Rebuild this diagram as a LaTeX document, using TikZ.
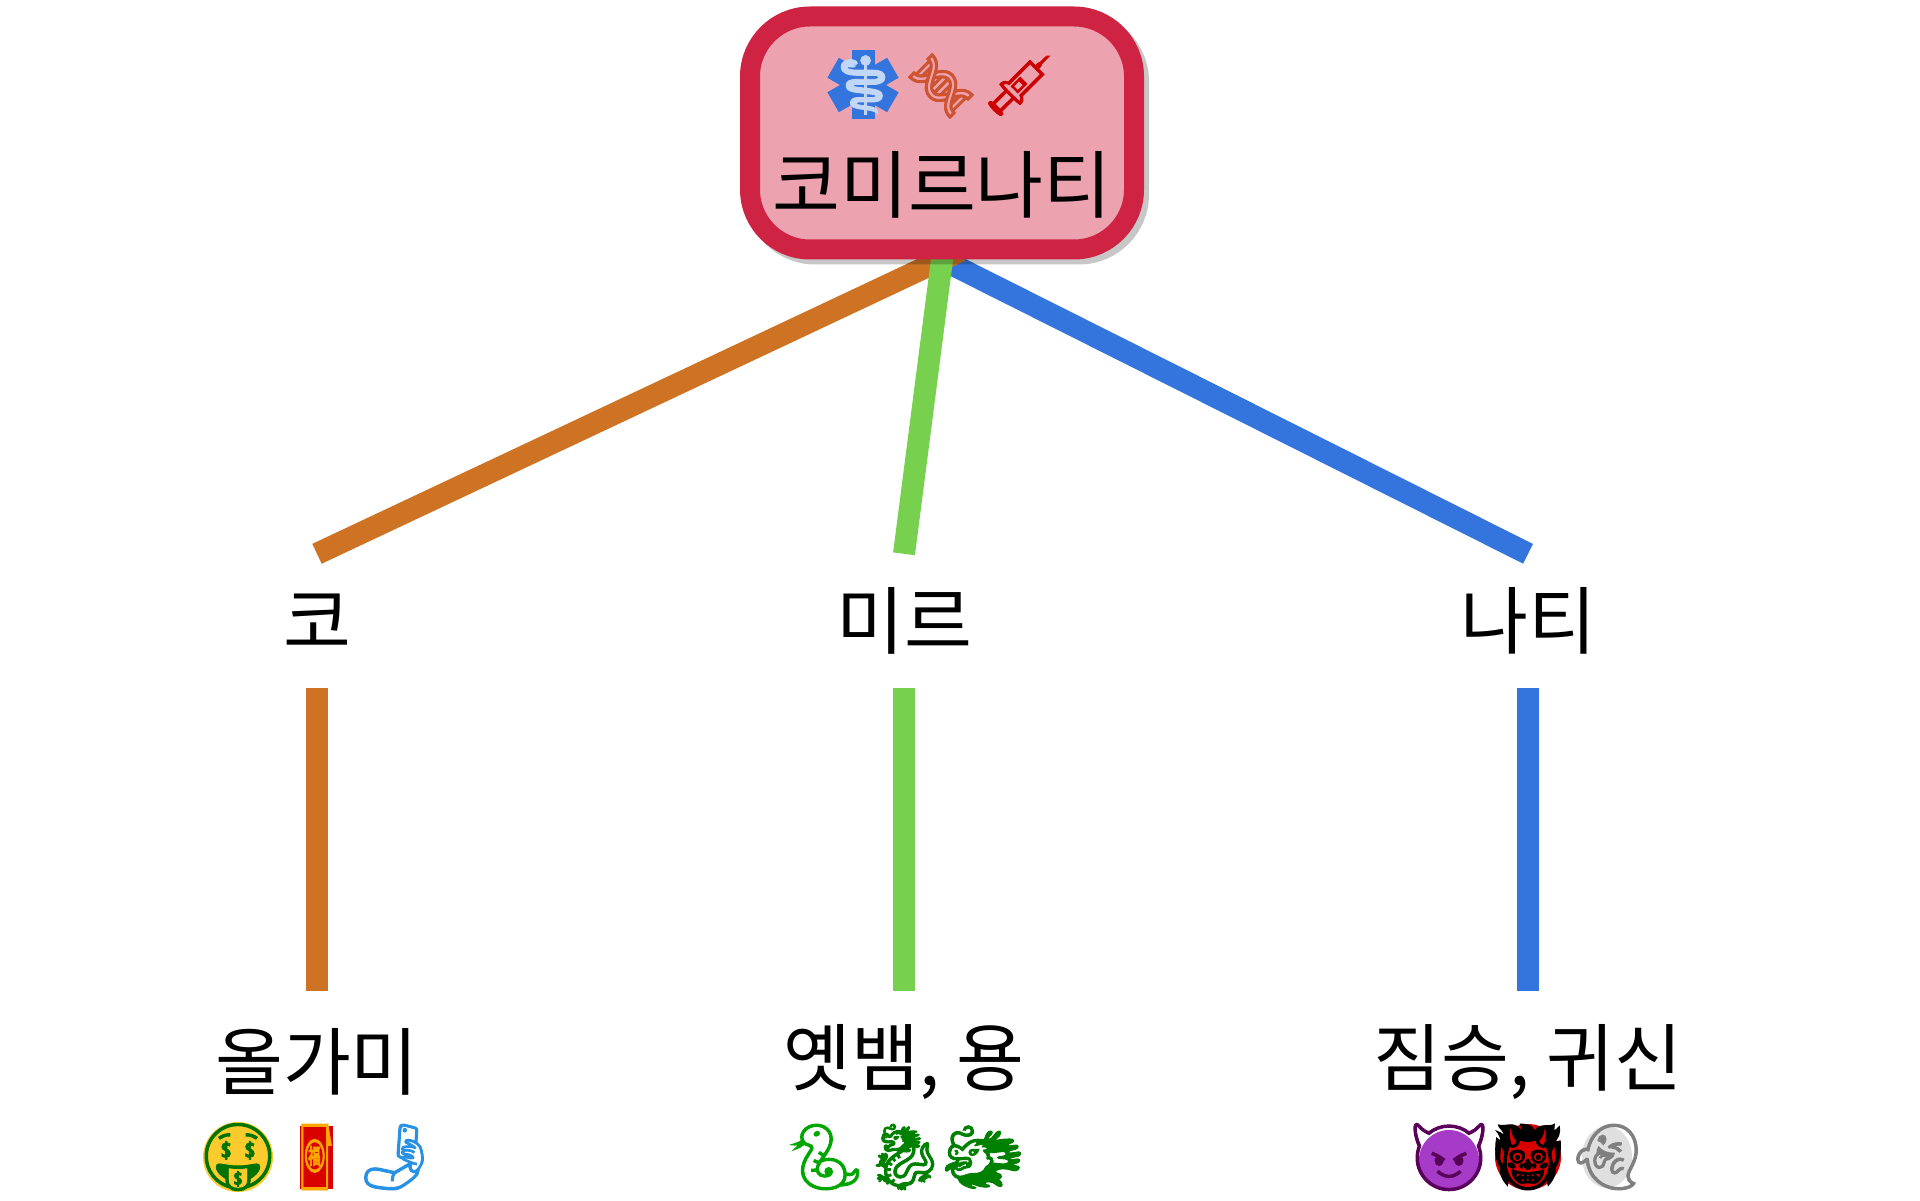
\documentclass[tikz,border=0pt]{standalone}
\usepackage{fontspec}
\setmainfont{Noto Sans CJK KR}
\newfontfamily\emojifont[FakeBold=1.4]{Noto Emoji}
\usetikzlibrary{backgrounds, shadows, shapes.geometric}
\definecolor{myred}{HTML}{CE2342}
\definecolor{mypink}{HTML}{EDA3AF}
\definecolor{myorange}{HTML}{CE7324}
\definecolor{mygreen}{HTML}{78D14E}
\definecolor{myblue}{HTML}{3375DC}
\definecolor{myyellow}{HTML}{FBCB2E}
\definecolor{mypurple}{HTML}{A63BC8}
\tikzset{
	rootnode/.style={
			shape=rectangle,
			draw=myred,
			fill=mypink,
			line width=2mm,
			rounded corners=6mm,
			minimum width=38.4mm,
			minimum height=23.3mm,
			inner sep=0pt,
			drop shadow={shadow xshift=0.5mm,shadow yshift=-0.5mm,draw=black,line width=2mm,fill=black,opacity=0.22}
		},
	wordnode/.style={
			shape=rectangle,
			minimum height=13.3mm,
			inner sep=0pt,
			font=\fontsize{21}{25}\selectfont
		},
	leafnode/.style={
			wordnode,
			minimum height=14.1mm
		},
	emojinode/.style={
			inner sep=0pt,
			font=\fontsize{18.5}{22}\emojifont
		},
	backnode/.style={
			circle,
			inner sep=0pt,
			minimum size=7mm
		},
	barnode/.style={
			shape=rectangle,
			fill=myblue,
			inner sep=0pt,
			minimum width=2.3mm,
			minimum height=6.9mm
		},
	branch/.style={
			line width=2.2mm
		}
}

\begin{document}
\begin{tikzpicture}
  \useasboundingbox (0,0) rectangle (19.2,12);

  \node[rootnode] (root) at (9.42,10.67) {};
  \node[wordnode] (rootword) at (9.42,10.155) {코미르나티};

  \foreach \a in {0,60,120}
    \node[barnode, rotate=\a] (bar\a) at (8.63,11.15) {};
  \node[emojinode, text=white!70!myblue, font=\fontsize{16.5}{20}\emojifont] (star) at (8.63,11.15) {⚕};
  \node[emojinode, text=myorange!60!myred, rotate=45, font=\fontsize{16.5}{20}\emojifont] (dna) at (9.41,11.14) {🧬};
  \node[emojinode, text=red!80!black] (syringe) at (10.19,11.14) {💉};

  \node[wordnode] (ko) at (3.17,5.79) {코};
  \node[wordnode] (mir) at (9.04,5.79) {미르};
  \node[wordnode] (nati) at (15.28,5.79) {나티};

  \node[leafnode] (olgami) at (3.17,1.38) {올가미};
  \node[leafnode] (snake) at (9.04,1.38) {옛뱀, 용};
  \node[leafnode] (beast) at (15.28,1.38) {짐승, 귀신};

  \node[backnode, fill=myyellow] (moneyback) at (2.38,0.43) {};
  \node[emojinode, text=green!45!black] (money) at (moneyback) {🤑};
  \node[shape=rectangle, fill=red!85!black, minimum width=3.3mm, minimum height=6.3mm, inner sep=0pt] (envelopeback) at (3.165,0.43) {};
  \node[emojinode, text=orange!70!yellow, xscale=0.58, transform shape] (envelope) at (envelopeback) {🧧};
  \node[emojinode, text=myblue!80!cyan] (selfie) at (3.94,0.43) {🤳};

  \node[emojinode, text=green!65!black] (serpent) at (8.25,0.43) {🐍};
  \node[emojinode, text=green!50!black] (dragon) at (9.05,0.43) {🐉};
  \node[emojinode, text=green!50!black] (dragonface) at (9.83,0.43) {🐲};

  \node[backnode, fill=mypurple, minimum size=6mm] (impback) at (14.49,0.40) {};
  \node[emojinode, text=black!30!violet] (imp) at (14.49,0.43) {😈};
  \node[backnode, fill=red!85!black, minimum size=6.6mm] (ogreback) at (15.28,0.43) {};
  \node[emojinode, text=black] (ogre) at (ogreback) {👹};
  \node[ellipse, fill=gray!25, inner sep=0pt, minimum width=5mm, minimum height=6.2mm] (ghostback) at (16.07,0.43) {};
  \node[emojinode, text=gray] (ghost) at (ghostback) {👻};

  \begin{scope}[on background layer]
    \draw[branch, myblue, shorten <=-2mm] (root.south) -- (nati.north);
    \draw[branch, myorange, shorten <=-2mm] (root.south) -- (ko.north);
    \draw[branch, mygreen, shorten <=-2mm] (root.south) -- (mir.north);
  \end{scope}

  \draw[branch, myorange] (ko.south) -- (olgami.north);
  \draw[branch, mygreen] (mir.south) -- (snake.north);
  \draw[branch, myblue] (nati.south) -- (beast.north);

\end{tikzpicture}
\end{document}
